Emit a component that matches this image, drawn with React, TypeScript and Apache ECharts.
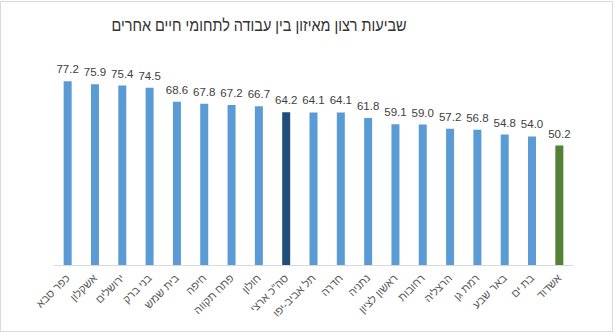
import React, { useEffect, useRef } from "react";
import * as echarts from "echarts";

const categories = [
  "כפר סבא",
  "אשקלון",
  "ירושלים",
  "בני ברק",
  "בית שמש",
  "חיפה",
  "פתח תקווה",
  "חולון",
  "סה\"כ ארצי",
  "תל אביב-יפו",
  "חדרה",
  "נתניה",
  "ראשון לציון",
  "רחובות",
  "הרצליה",
  "רמת גן",
  "באר שבע",
  "בת ים",
  "אשדוד",
];
const values = [77.2, 75.9, 75.4, 74.5, 68.6, 67.8, 67.2, 66.7, 64.2, 64.1, 64.1, 61.8, 59.1, 59.0, 57.2, 56.8, 54.8, 54.0, 50.2];
const title = "שביעות רצון מאיזון בין עבודה לתחומי חיים אחרים";

const BLUE = "#5B9BD5";
const NAVY = "#1F4E79";
const GREEN = "#548235";

export default function App() {
  const ref = useRef<HTMLDivElement>(null);
  useEffect(() => {
    if (!ref.current) return;
    const chart = echarts.init(ref.current, undefined, { renderer: "svg" });
    const font = "'Liberation Sans', Arial, sans-serif";
    chart.setOption({
      animation: false,
      backgroundColor: "#ffffff",
      textStyle: { fontFamily: font },
      graphic: [
        {
          type: "rect",
          shape: { x: 0.5, y: 1.5, width: 612, height: 330 },
          style: { fill: "none", stroke: "#d9d9d9", lineWidth: 1 },
          silent: true,
        },
        {
          type: "text",
          x: 259,
          y: 25,
          scaleX: 0.85,
          style: {
            text: title,
            fontFamily: font,
            fontSize: 17,
            fill: "#333333",
            align: "center",
            verticalAlign: "middle",
          },
        },
      ],
      grid: { left: 54, right: 42, top: 74.6, bottom: 69, containLabel: false },
      xAxis: {
        type: "category",
        data: categories,
        axisLine: { lineStyle: { color: "#d9d9d9" } },
        axisTick: { show: false },
        axisLabel: {
          interval: 0,
          rotate: 45,
          color: "#595959",
          fontSize: 11,
          fontFamily: font,
          margin: 11,
        },
      },
      yAxis: {
        type: "value",
        min: 0,
        max: 80,
        show: false,
        splitLine: { show: false },
      },
      series: [
        {
          type: "bar",
          barWidth: 8,
          data: values.map((v, i) => ({
            value: v,
            itemStyle: {
              color: i === 8 ? NAVY : i === values.length - 1 ? GREEN : BLUE,
            },
          })),
          label: {
            show: true,
            position: "top",
            distance: 6,
            color: "#404040",
            fontSize: 11.5,
            fontFamily: font,
            formatter: (p: any) => Number(p.value).toFixed(1),
          },
        },
      ],
    });
    return () => chart.dispose();
  }, []);
  return (
    <div
      ref={ref}
      style={{ position: "absolute", left: 0, top: 0, width: 615, height: 334 }}
    />
  );
}
